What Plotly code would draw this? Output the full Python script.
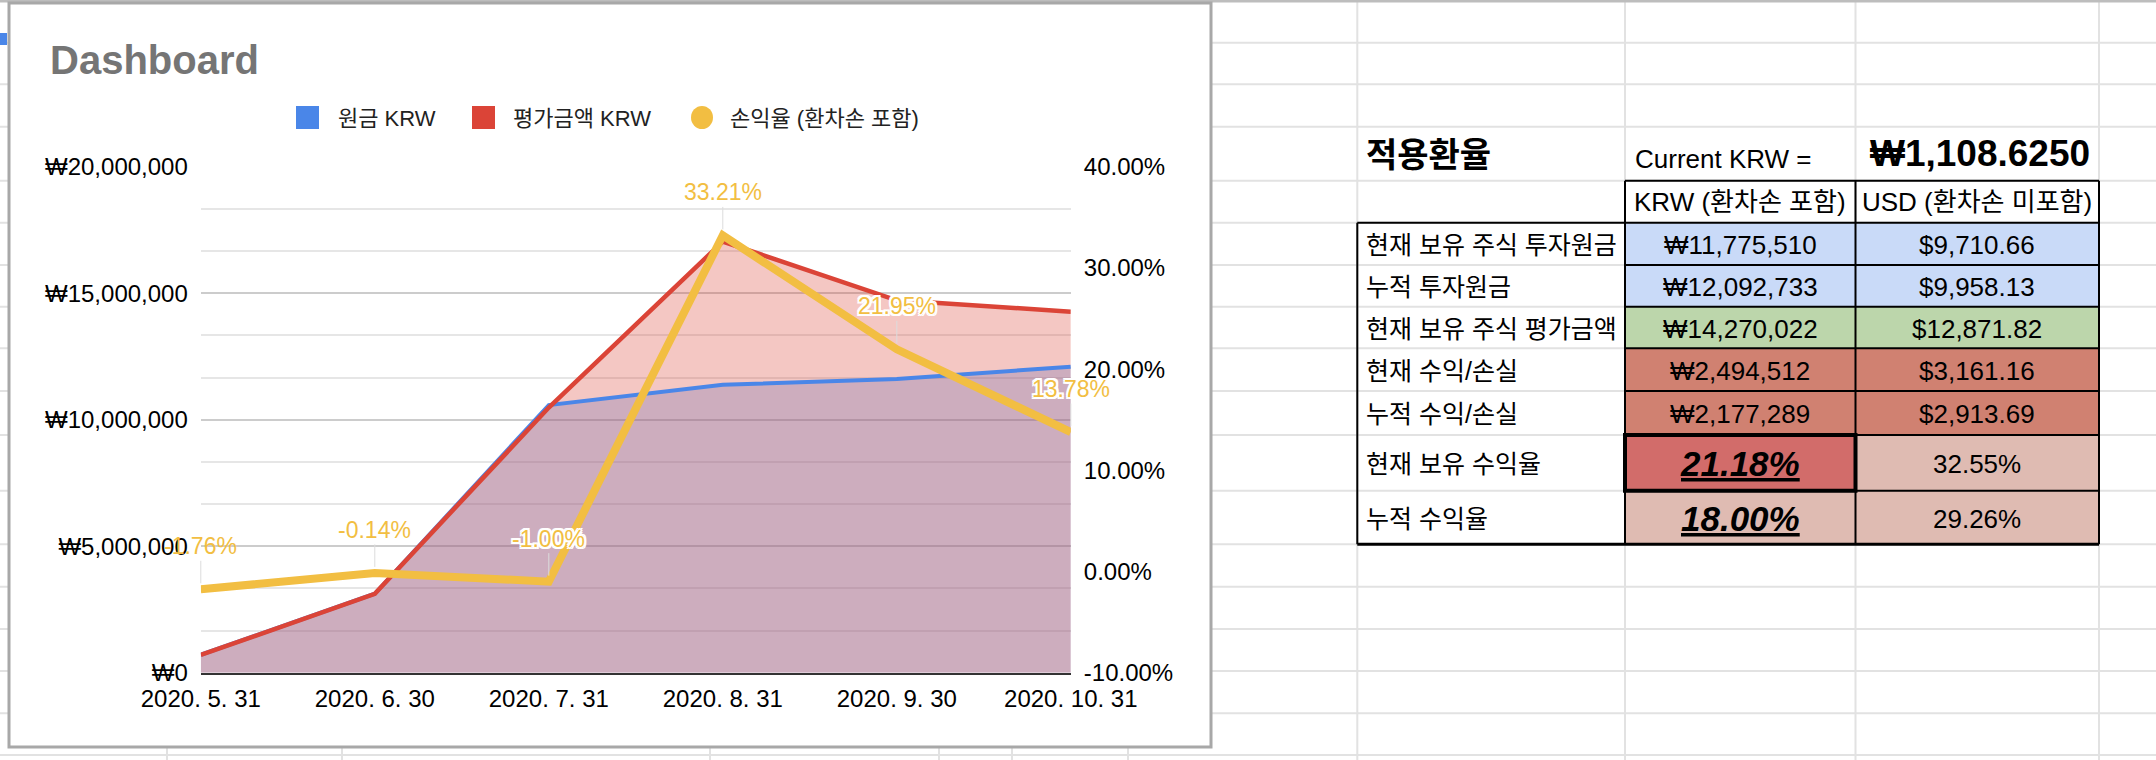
import plotly.graph_objects as go

# ---------------- data ----------------
dates = ["2020. 5. 31", "2020. 6. 30", "2020. 7. 31", "2020. 8. 31", "2020. 9. 30", "2020. 10. 31"]
principal_krw = [710000, 3120000, 10580000, 11380000, 11610000, 12092733]
valuation_krw = [700000, 3120000, 10480000, 17040000, 14720000, 14270022]
return_rate = [-0.0176, -0.0014, -0.0100, 0.3321, 0.2195, 0.1378]

series_names = ["원금 KRW", "평가금액 KRW", "손익율 (환차손 포함)"]
left_tick_vals = [0, 5000000, 10000000, 15000000, 20000000]
left_tick_text = ["₩0", "₩5,000,000", "₩10,000,000", "₩15,000,000", "₩20,000,000"]
right_tick_vals = [-0.10, 0.0, 0.10, 0.20, 0.30, 0.40]
right_tick_text = ["-10.00%", "0.00%", "10.00%", "20.00%", "30.00%", "40.00%"]

rate_title = "적용환율"
rate_label = "Current KRW ="
rate_value = "₩1,108.6250"
col_headers = ["KRW (환차손 포함)", "USD (환차손 미포함)"]
row_labels = ["현재 보유 주식 투자원금", "누적 투자원금", "현재 보유 주식 평가금액",
              "현재 수익/손실", "누적 수익/손실", "현재 보유 수익율", "누적 수익율"]
krw_values = ["₩11,775,510", "₩12,092,733", "₩14,270,022", "₩2,494,512", "₩2,177,289", "21.18%", "18.00%"]
usd_values = ["$9,710.66", "$9,958.13", "$12,871.82", "$3,161.16", "$2,913.69", "32.55%", "29.26%"]

# ---------------- styles / geometry ----------------
W, H = 2156, 760
FONT = "Liberation Sans, Arial, Noto Sans CJK KR, sans-serif"
BLUE, RED, YELLOW = "#4a86e8", "#db4437", "#f2be42"
GRID = "#e2e2e2"

def px(x):
    return x / W

def py(y):
    return 1 - y / H

shapes = []

def rect(x0, y0, x1, y1, fill=None, line=None, lw=0, layer="below"):
    shapes.append(dict(type="rect", xref="paper", yref="paper",
                       x0=px(x0), x1=px(x1), y0=py(y1), y1=py(y0),
                       fillcolor=fill if fill else "rgba(0,0,0,0)",
                       line=dict(color=line if line else "rgba(0,0,0,0)", width=lw),
                       layer=layer))

def seg(x0, y0, x1, y1, color, w, layer="below"):
    shapes.append(dict(type="line", xref="paper", yref="paper",
                       x0=px(x0), x1=px(x1), y0=py(y0), y1=py(y1),
                       line=dict(color=color, width=w), layer=layer))

# spreadsheet grid
sheet_rows = [42.7, 84.3, 126.7, 180.7, 222.7, 265, 306.7, 348.3, 391, 435, 490.7,
              544.3, 586.7, 629, 671, 713.3, 755]
sheet_cols = [167, 342, 710, 939, 1012, 1128, 1357.3, 1625, 1855.5, 2099]
for y in sheet_rows:
    seg(0, y, W, y, GRID, 2)
for x in sheet_cols:
    seg(x, 0, x, H, GRID, 2)
seg(0, 1, W, 1, "#bdbdbd", 3)
rect(0, 33, 7, 45, fill=BLUE)

# chart frame
rect(9, 3, 1211, 747, fill="white", line="#a8a8a8", lw=3)

# ---------------- chart traces ----------------
fig = go.Figure()
fig.add_trace(go.Scatter(x=dates, y=principal_krw, mode="lines", fill="tozeroy",
                         fillcolor="rgba(74,134,232,0.3)", line=dict(width=0),
                         hoverinfo="skip", name=series_names[0]))
fig.add_trace(go.Scatter(x=dates, y=valuation_krw, mode="lines", fill="tozeroy",
                         fillcolor="rgba(219,68,55,0.3)", line=dict(width=0),
                         hoverinfo="skip", name=series_names[1]))
fig.add_trace(go.Scatter(x=dates, y=principal_krw, mode="lines",
                         line=dict(color=BLUE, width=4), name=series_names[0]))
fig.add_trace(go.Scatter(x=dates, y=valuation_krw, mode="lines",
                         line=dict(color=RED, width=4.5), name=series_names[1]))
fig.add_trace(go.Scatter(x=dates, y=return_rate, mode="lines", yaxis="y2",
                         line=dict(color=YELLOW, width=8), name=series_names[2]))

annotations = []
halo = ",".join(f"{dx}px {dy}px 0 #fff" for dx in (-2, 0, 2) for dy in (-2, 0, 2) if dx or dy)
for i, (d, r) in enumerate(zip(dates, return_rate)):
    annotations.append(dict(x=d, y=r, xref="x", yref="y2", text=f"{r*100:.2f}%",
                            showarrow=True, arrowhead=0, arrowwidth=1, arrowcolor="#dcdcdc",
                            ax=0, ay=-43, standoff=6,
                            font=dict(family=FONT, size=23, color=YELLOW,
                                      shadow=(halo if i > 0 else "none"))))

# title
annotations.append(dict(x=px(48), y=py(60), xref="paper", yref="paper", xanchor="left",
                        yanchor="middle", showarrow=False, text="<b>Dashboard</b>",
                        font=dict(family=FONT, size=40, color="#757575")))

# manual legend
legend_items = [(296, 336, BLUE, "rect"), (472, 511, RED, "rect"), (691, 728, YELLOW, "circle")]
for (sx, tx, col, kind), name in zip(legend_items, series_names):
    if kind == "rect":
        rect(sx, 106, sx + 23, 129, fill=col, layer="above")
    else:
        shapes.append(dict(type="circle", xref="paper", yref="paper", x0=px(sx), x1=px(sx + 22),
                           y0=py(129), y1=py(106), fillcolor=col, line=dict(width=0)))
    annotations.append(dict(x=px(tx), y=py(118), xref="paper", yref="paper", xanchor="left",
                            yanchor="middle", showarrow=False, text=name,
                            font=dict(family=FONT, size=22, color="#222222")))

# ---------------- table ----------------
colA, colB, colC, colD = 1357.3, 1625, 1855.5, 2099
row_bounds = [222.7, 265, 306.7, 348.3, 391, 435, 490.7, 544.3]
fill_b = ["#c9daf8", "#c9daf8", "#bcd6ab", "#d08171", "#d08171", "#d26c6a", "#dfbbb2"]
fill_c = ["#c9daf8", "#c9daf8", "#bcd6ab", "#d08171", "#d08171", "#dfbbb2", "#dfbbb2"]
for i in range(len(row_labels)):
    y0, y1 = row_bounds[i], row_bounds[i + 1]
    rect(colB, y0, colC, y1, fill=fill_b[i])
    rect(colC, y0, colD, y1, fill=fill_c[i])

BLACK = "#000000"
seg(colB, 180.7, colD, 180.7, BLACK, 2)
seg(colA, 222.7, colD, 222.7, BLACK, 2)
for y in row_bounds[1:-1]:
    seg(colB, y, colD, y, BLACK, 2)
seg(colA, 544.3, colD, 544.3, BLACK, 3)
seg(colA, 222.7, colA, 544.3, BLACK, 2)
for x in (colB, colC, colD):
    seg(x, 180.7, x, 544.3, BLACK, 2)
rect(colB, 435, colC, 490.7, line=BLACK, lw=4)

def txt(x, y, s, size, anchor="center", color="#000000"):
    annotations.append(dict(x=px(x), y=py(y), xref="paper", yref="paper", xanchor=anchor,
                            yanchor="middle", showarrow=False, text=s,
                            font=dict(family=FONT, size=size, color=color)))

txt(1364, 155, f"<b>{rate_title}</b>", 34, "left")
txt(1633, 159, rate_label, 26, "left")
txt(2092, 154, f"<b>{rate_value}</b>", 37, "right")
txt((colB + colC) / 2, 202, col_headers[0], 26)
txt((colC + colD) / 2, 202, col_headers[1], 26)
for i, lab in enumerate(row_labels):
    yc = (row_bounds[i] + row_bounds[i + 1]) / 2 + 1
    txt(1364, yc, lab, 25, "left")
    kv = krw_values[i]
    if i >= 5:
        txt((colB + colC) / 2, yc, f"<b><i><u>{kv}</u></i></b>", 35)
    else:
        txt((colB + colC) / 2, yc, kv, 26)
    txt((colC + colD) / 2, yc, usd_values[i], 26)

# ---------------- layout ----------------
fig.update_layout(
    width=W, height=H, margin=dict(l=0, r=0, t=0, b=0, pad=0, autoexpand=False),
    paper_bgcolor="white", plot_bgcolor="rgba(0,0,0,0)", showlegend=False,
    font=dict(family=FONT, color="#000000"),
    xaxis=dict(domain=[px(200.8), px(1070.8)], type="category", range=[0, 5],
               showgrid=False, showline=True, linecolor="#333333", linewidth=2,
               layer="below traces", ticks="", ticklabelstandoff=3, automargin=False,
               tickfont=dict(family=FONT, size=24, color="#000000")),
    yaxis=dict(domain=[py(672.7), py(166.7)], range=[0, 20000000], tickvals=left_tick_vals,
               ticktext=left_tick_text, showgrid=True, gridcolor="#cccccc", gridwidth=2,
               zeroline=False, ticks="", ticklabelstandoff=12, automargin=False,
               minor=dict(dtick=5000000 / 3, tick0=0, showgrid=True, gridcolor="#e6e6e6", gridwidth=2),
               tickfont=dict(family=FONT, size=24, color="#000000")),
    yaxis2=dict(overlaying="y", side="right", anchor="x", range=[-0.10, 0.40],
                tickvals=right_tick_vals, ticktext=right_tick_text, showgrid=False,
                zeroline=False, ticks="", ticklabelstandoff=12, automargin=False,
                tickfont=dict(family=FONT, size=24, color="#000000")),
    shapes=shapes, annotations=annotations,
)

fig.write_html("out.html")
